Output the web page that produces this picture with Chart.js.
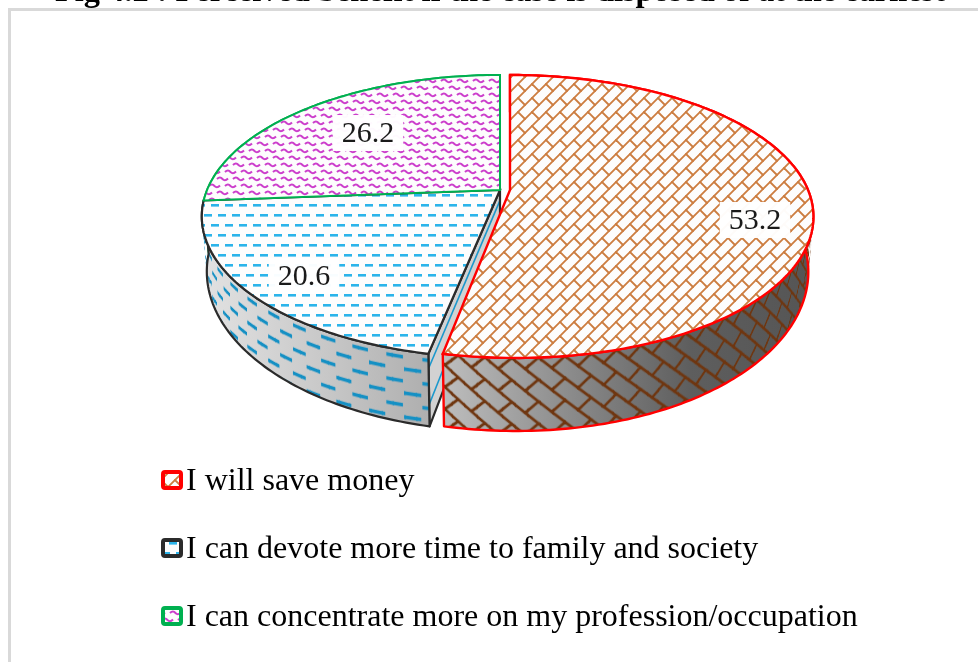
<!DOCTYPE html>
<html><head><meta charset="utf-8">
<style>html,body{margin:0;padding:0;background:#fff;overflow:hidden}canvas{display:block}</style>
<script src="https://cdn.jsdelivr.net/npm/chart.js@4"></script>
</head><body>
<canvas id="c" width="978" height="662" style="width:978px;height:662px"></canvas>
<script>
const categories = ["I will save money","I can devote more time to family and society","I can concentrate more on my profession/occupation"];
const values = [53.2,20.6,26.2];
const labelsText = ["53.2","20.6","26.2"];
const titleText = "Fig 4.2 : Perceived benefit if the case is disposed of at the earliest";
const borderColors = ["#ff0000","#2b2b2b","#00b050"];
const labelPos = [[755,220],[304,276],[368,133]];
const sliceCenterX = [510,500,500];
const sliceScaleX = [1,0.983,0.983];
const frontSkew = [6,0,0];
const swatchY = [480,548,616];

function tile(w,h,fn){const t=document.createElement('canvas');t.width=w;t.height=h;const g=t.getContext('2d');fn(g);return t;}
function bricks(S,color,lw,bg){
  const st=S/28;
  return tile(S,S,g=>{
    if(bg){g.fillStyle=bg;g.fillRect(0,0,S,S);}
    g.scale(st,st);g.strokeStyle=color;g.lineWidth=lw;g.lineCap='round';
    const pt=(p,q)=>[(p+q)/2,(q-p)/2];
    for(let k=-6;k<12;k++){
      const a=pt(-120,14*k),b=pt(120,14*k);
      g.beginPath();g.moveTo(a[0],a[1]);g.lineTo(b[0],b[1]);g.stroke();
      for(let j=-6;j<7;j++){
        const p=28*j+(k%2?14:0);
        const c=pt(p,14*k),d=pt(p,14*k+14);
        g.beginPath();g.moveTo(c[0],c[1]);g.lineTo(d[0],d[1]);g.stroke();
      }
    }
  });
}
function dashes(W,H,len,th,color,bg){
  return tile(W,H,g=>{
    if(bg){g.fillStyle=bg;g.fillRect(0,0,W,H);}
    g.fillStyle=color;
    g.fillRect(1,H*0.2,len,th);
    const x=W/2+1,y=H*0.7;
    g.fillRect(x,y,Math.min(len,W-x),th);
    if(x+len>W)g.fillRect(0,y,x+len-W,th);
  });
}
function waves(bg){
  return tile(16,14,g=>{
    if(bg){g.fillStyle=bg;g.fillRect(0,0,16,14);}
    g.strokeStyle='#cc3fcc';g.lineWidth=2;
    const w=(x,y)=>{g.beginPath();g.moveTo(x,y);g.quadraticCurveTo(x+3,y-3,x+5.5,y);g.quadraticCurveTo(x+8,y+2.5,x+11,y-.5);g.stroke();};
    w(1,4);w(9,11);w(-7,11);
  });
}
const cv=document.getElementById('c');const ctx0=cv.getContext('2d');
const rep=t=>ctx0.createPattern(t,'repeat');
const topPatterns=[rep(bricks(28,'#cc7d40',1.8,'#fdfdfd')),rep(dashes(14,20,8,2.6,'#2bb4ea','#fdfdfd')),rep(waves('#fdfdfd'))];
const sidePatterns=[rep(bricks(44,'#6f3610',1.6)),rep(dashes(32,24,15,3.6,'#1590c4')),rep(waves())];
const sideGrad=[
  [[445,'#bdbdbd'],[560,'#8f8f8f'],[690,'#5e5e5e'],[810,'#555555']],
  [[203,'#e2e2e2'],[320,'#c9c9c9'],[432,'#aeaeae']],
  [[200,'#cfcfcf'],[260,'#c4c4c4']]
];
const TOP={A:298,b:190,k:101,c:-0.187};
const BOT={A:293,b:241.7,k:108.7,c:-0.187};
const DEG=Math.PI/180;
function proj(i,a,pl,r=1){
  const u=r*Math.sin(a),t=-r*Math.cos(a),den=1+pl.c*t;
  const front=Math.max(t,0);
  return [sliceCenterX[i]+sliceScaleX[i]*pl.A*u/den+frontSkew[i]*front*front*front,(pl.b+pl.k*t)/den];
}
function arcPts(i,a0,a1,pl){
  const n=Math.max(2,Math.ceil(Math.abs(a1-a0)/DEG)),o=[];
  for(let j=0;j<=n;j++)o.push(proj(i,a0+(a1-a0)*j/n,pl));
  return o;
}
function poly(ctx,pts,close){
  ctx.beginPath();pts.forEach((p,i)=>i?ctx.lineTo(p[0],p[1]):ctx.moveTo(p[0],p[1]));if(close)ctx.closePath();
}
function drawSide(ctx,i,a0,a1,color,lw){
  const outline=arcPts(i,a0,a1,TOP).concat(arcPts(i,a1,a0,BOT));
  const x0=sideGrad[i][0][0],x1=sideGrad[i][sideGrad[i].length-1][0];
  const g=ctx.createLinearGradient(x0,0,x1,0);
  sideGrad[i].forEach(s=>g.addColorStop((s[0]-x0)/(x1-x0),s[1]));
  ctx.fillStyle=g;poly(ctx,outline,true);ctx.fill();
  const R=300,da=2*DEG,pat=sidePatterns[i];
  for(let a=a0;a<a1;a+=da){
    const e=Math.min(a+da,a1);
    const p0=proj(i,a,TOP),p1=proj(i,a+da,TOP);
    let fa=(p1[0]-p0[0])/(R*da);const fb=(p1[1]-p0[1])/(R*da);
    if(Math.abs(fa)<0.14)fa=fa<0?-0.14:0.14;
    const s0=R*a;
    pat.setTransform(new DOMMatrix([fa,fb,0,1,p0[0]-fa*s0,p0[1]-fb*s0]));
    const e2=Math.min(e+0.25*DEG,a1);
    const q=[proj(i,a,TOP),proj(i,e2,TOP),proj(i,e2,BOT),proj(i,a,BOT)];
    ctx.fillStyle=pat;poly(ctx,q,true);ctx.fill();
  }
  ctx.strokeStyle=color;ctx.lineWidth=lw;ctx.lineJoin='round';
  poly(ctx,outline,true);ctx.stroke();
}
function drawWall(ctx,i,a,color,lw){
  const tA=proj(i,0,TOP,0),tR=proj(i,a,TOP),bR=proj(i,a,BOT),bA=proj(i,0,BOT,0);
  ctx.fillStyle='#d2d2d2';poly(ctx,[tA,tR,bR,bA],true);ctx.fill();
  ctx.strokeStyle='#1c98cc';ctx.lineWidth=1.6;
  [0.2,0.7].forEach(f=>{
    const m=(p,q)=>[p[0]+(q[0]-p[0])*f,p[1]+(q[1]-p[1])*f];
    poly(ctx,[m(tA,bA),m(tR,bR)]);ctx.stroke();
  });
  ctx.strokeStyle=color;ctx.lineWidth=lw;poly(ctx,[tA,tR,bR,bA],true);ctx.stroke();
}
function drawTop(ctx,i,a0,a1,color,lw){
  const pts=[proj(i,0,TOP,0)].concat(arcPts(i,a0,a1,TOP));
  ctx.fillStyle=topPatterns[i];poly(ctx,pts,true);ctx.fill();
  ctx.strokeStyle=color;ctx.lineWidth=lw;ctx.lineJoin='miter';poly(ctx,pts,true);ctx.stroke();
}
const pie3d={
  id:'pie3d',
  afterLayout(chart){
    chart.titleBlock.left+=11;chart.titleBlock.right+=11;
    chart.legend.left+=125;chart.legend.right+=125;
    chart.legend.top+=8;chart.legend.bottom+=8;
  },
  beforeDraw(chart){
    const ctx=chart.ctx;ctx.save();
    ctx.strokeStyle='#d9d9d9';ctx.lineWidth=3;
    ctx.beginPath();ctx.moveTo(9.5,670);ctx.lineTo(9.5,9.5);ctx.lineTo(990,9.5);ctx.stroke();
    ctx.restore();
  },
  beforeDatasetDraw(chart,args){
    const ctx=chart.ctx,arcs=args.meta.data,ds=chart.data.datasets[0];
    const ang=arcs.map(e=>[e.startAngle+Math.PI/2,e.endAngle+Math.PI/2]);
    ctx.save();
    drawSide(ctx,2,ang[2][0],ang[2][1],ds.borderColor[2],2);
    drawWall(ctx,1,ang[1][0],ds.borderColor[1],2.2);
    drawSide(ctx,1,ang[1][0],ang[1][1],ds.borderColor[1],2.2);
    drawTop(ctx,1,ang[1][0],ang[1][1],ds.borderColor[1],2.2);
    drawTop(ctx,2,ang[2][0],ang[2][1],ds.borderColor[2],2);
    drawSide(ctx,0,ang[0][0],ang[0][1],ds.borderColor[0],2.4);
    drawTop(ctx,0,ang[0][0],ang[0][1],ds.borderColor[0],2.4);
    ctx.font='30px "Liberation Serif"';ctx.textAlign='center';ctx.textBaseline='middle';
    labelsText.forEach((t,i)=>{
      const [x,y]=labelPos[i];
      const w=ctx.measureText(t).width+18;
      ctx.fillStyle='rgba(255,255,255,0.97)';ctx.fillRect(x-w/2,y-18,w,36);
      ctx.fillStyle='#1a1a1a';ctx.fillText(t,x,y+1);
    });
    ctx.restore();
    return false;
  },
  afterDraw(chart){
    const ctx=chart.ctx,ds=chart.data.datasets[0];
    ctx.save();
    swatchY.forEach((y,i)=>{
      const p=ds.backgroundColor[i];
      p.setTransform(new DOMMatrix([1,0,0,1,161,y]));
      ctx.beginPath();ctx.roundRect(163,y-8,18,16,2);
      ctx.fillStyle=p;ctx.fill();
      ctx.strokeStyle=ds.borderColor[i];ctx.lineWidth=4;ctx.stroke();
    });
    ctx.restore();
  }
};
new Chart(cv,{
  type:'pie',
  data:{labels:categories,datasets:[{data:values,backgroundColor:topPatterns,borderColor:borderColors,borderWidth:3}]},
  plugins:[pie3d],
  options:{
    responsive:false,animation:false,rotation:0,
    layout:{padding:0},
    plugins:{
      tooltip:{enabled:false},
      title:{display:true,text:titleText,color:'#000',font:{family:'"Liberation Serif"',size:32.4,weight:'bold'},padding:{top:-27,bottom:0}},
      legend:{display:true,position:'left',align:'end',maxWidth:800,
        labels:{boxWidth:9,boxHeight:9,padding:36,color:'#222',font:{family:'"Liberation Serif"',size:32},
          generateLabels(chart){
            return chart.data.labels.map((text,index)=>({text,index,fillStyle:'rgba(0,0,0,0)',strokeStyle:'rgba(0,0,0,0)',lineWidth:0,hidden:false}));
          }}}
    }
  }
});
</script></body></html>
